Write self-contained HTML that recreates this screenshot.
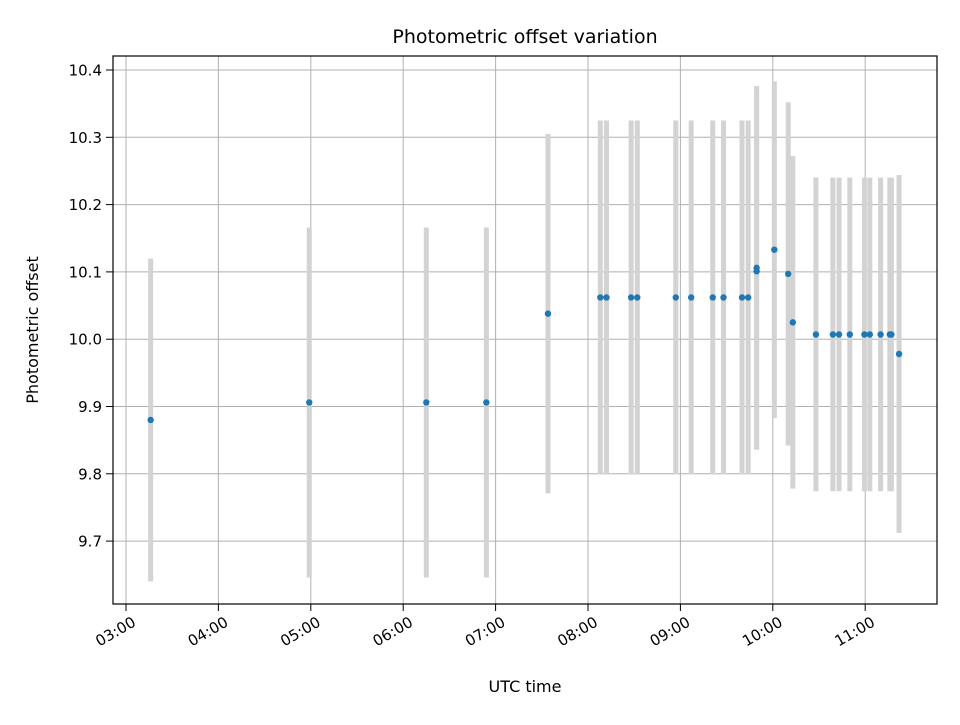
<!DOCTYPE html>
<html><head><meta charset="utf-8"><style>
body{margin:0;background:#fff}
svg text{font-family:"DejaVu Sans","Liberation Sans",sans-serif;fill:#000}
</style></head><body>
<svg id="chart" width="960" height="720" viewBox="0 0 960 720" xmlns="http://www.w3.org/2000/svg">
<rect width="960" height="720" fill="#fff"/>
<g id="grid"></g>
<g id="bars"></g>
<g id="pts"></g>
<rect x="113" y="56" width="824" height="548" fill="none" stroke="#000" stroke-width="1.2"/>
<g id="ticks"></g>
<text x="525" y="43" font-size="19" text-anchor="middle">Photometric offset variation</text>
<text x="525" y="692" font-size="16" text-anchor="middle">UTC time</text>
<text transform="translate(38,330) rotate(-90)" font-size="16" text-anchor="middle">Photometric offset</text>
</svg>
<script>
const times = ["03:16","04:59","06:15","06:54","07:34","08:08","08:12","08:28","08:32","08:57","09:07","09:21","09:28","09:40","09:44","09:49.5","09:49.5","10:01","10:10","10:13","10:28","10:39","10:43","10:50","10:59.5","11:03","11:10","11:16","11:17","11:22"];
const values = [9.880,9.906,9.906,9.906,10.038,10.062,10.062,10.062,10.062,10.062,10.062,10.062,10.062,10.062,10.062,10.106,10.101,10.133,10.097,10.025,10.007,10.007,10.007,10.007,10.007,10.007,10.007,10.007,10.007,9.978];
const errors = [0.24,0.26,0.26,0.26,0.267,0.263,0.263,0.263,0.263,0.263,0.263,0.263,0.263,0.263,0.263,0.27,0.265,0.25,0.255,0.247,0.233,0.233,0.233,0.233,0.233,0.233,0.233,0.233,0.233,0.266];
const xTicks = ["03:00","04:00","05:00","06:00","07:00","08:00","09:00","10:00","11:00"];
const yTicks = [9.7,9.8,9.9,10.0,10.1,10.2,10.3,10.4];
const NS="http://www.w3.org/2000/svg";
function hrs(t){const p=t.split(":");return +p[0]+ (+p[1])/60;}
function xs(t){return 126+(hrs(t)-3)*92.4;}
function ys(v){return 70+(10.4-v)*673;}
function mk(tag,attrs,parent){const e=document.createElementNS(NS,tag);for(const k in attrs)e.setAttribute(k,attrs[k]);document.getElementById(parent).appendChild(e);return e;}
xTicks.forEach(t=>{
  const x=xs(t);
  const g=mk("line",{x1:x,x2:x,y1:56,y2:604,stroke:"#b0b0b0","stroke-width":1},"grid");
  
  
  const tk=mk("line",{x1:x,x2:x,y1:604,y2:611,stroke:"#000","stroke-width":1},"ticks");
  
  
  const ax=x+5, ay=615;
  const tx=mk("text",{x:ax,y:ay,dy:"0.78em","font-size":"15","text-anchor":"end",transform:`rotate(-30 ${ax} ${ay})`},"ticks");
  
  
  tx.textContent=t;
});
yTicks.forEach(v=>{
  const y=ys(v);
  const g=mk("line",{x1:113,x2:937,y1:y,y2:y,stroke:"#b0b0b0","stroke-width":1},"grid");
  
  
  const tk=mk("line",{x1:106,x2:113,y1:y,y2:y,stroke:"#000","stroke-width":1},"ticks");
  
  
  const tx=mk("text",{x:102,y:y+5.5,"font-size":"15","text-anchor":"end"},"ticks");
  
  
  tx.textContent=v.toFixed(1);
});
times.forEach((t,i)=>{
  const x=xs(t);
  const b=mk("line",{x1:x,x2:x,y1:ys(values[i]+errors[i]),y2:ys(values[i]-errors[i]),stroke:"#d3d3d3","stroke-width":5},"bars");
  
  
});
times.forEach((t,i)=>{
  const c=mk("circle",{cx:xs(t),cy:ys(values[i]),r:3.2,fill:"#1f77b4"},"pts");
  
  
});
</script>
</body></html>
